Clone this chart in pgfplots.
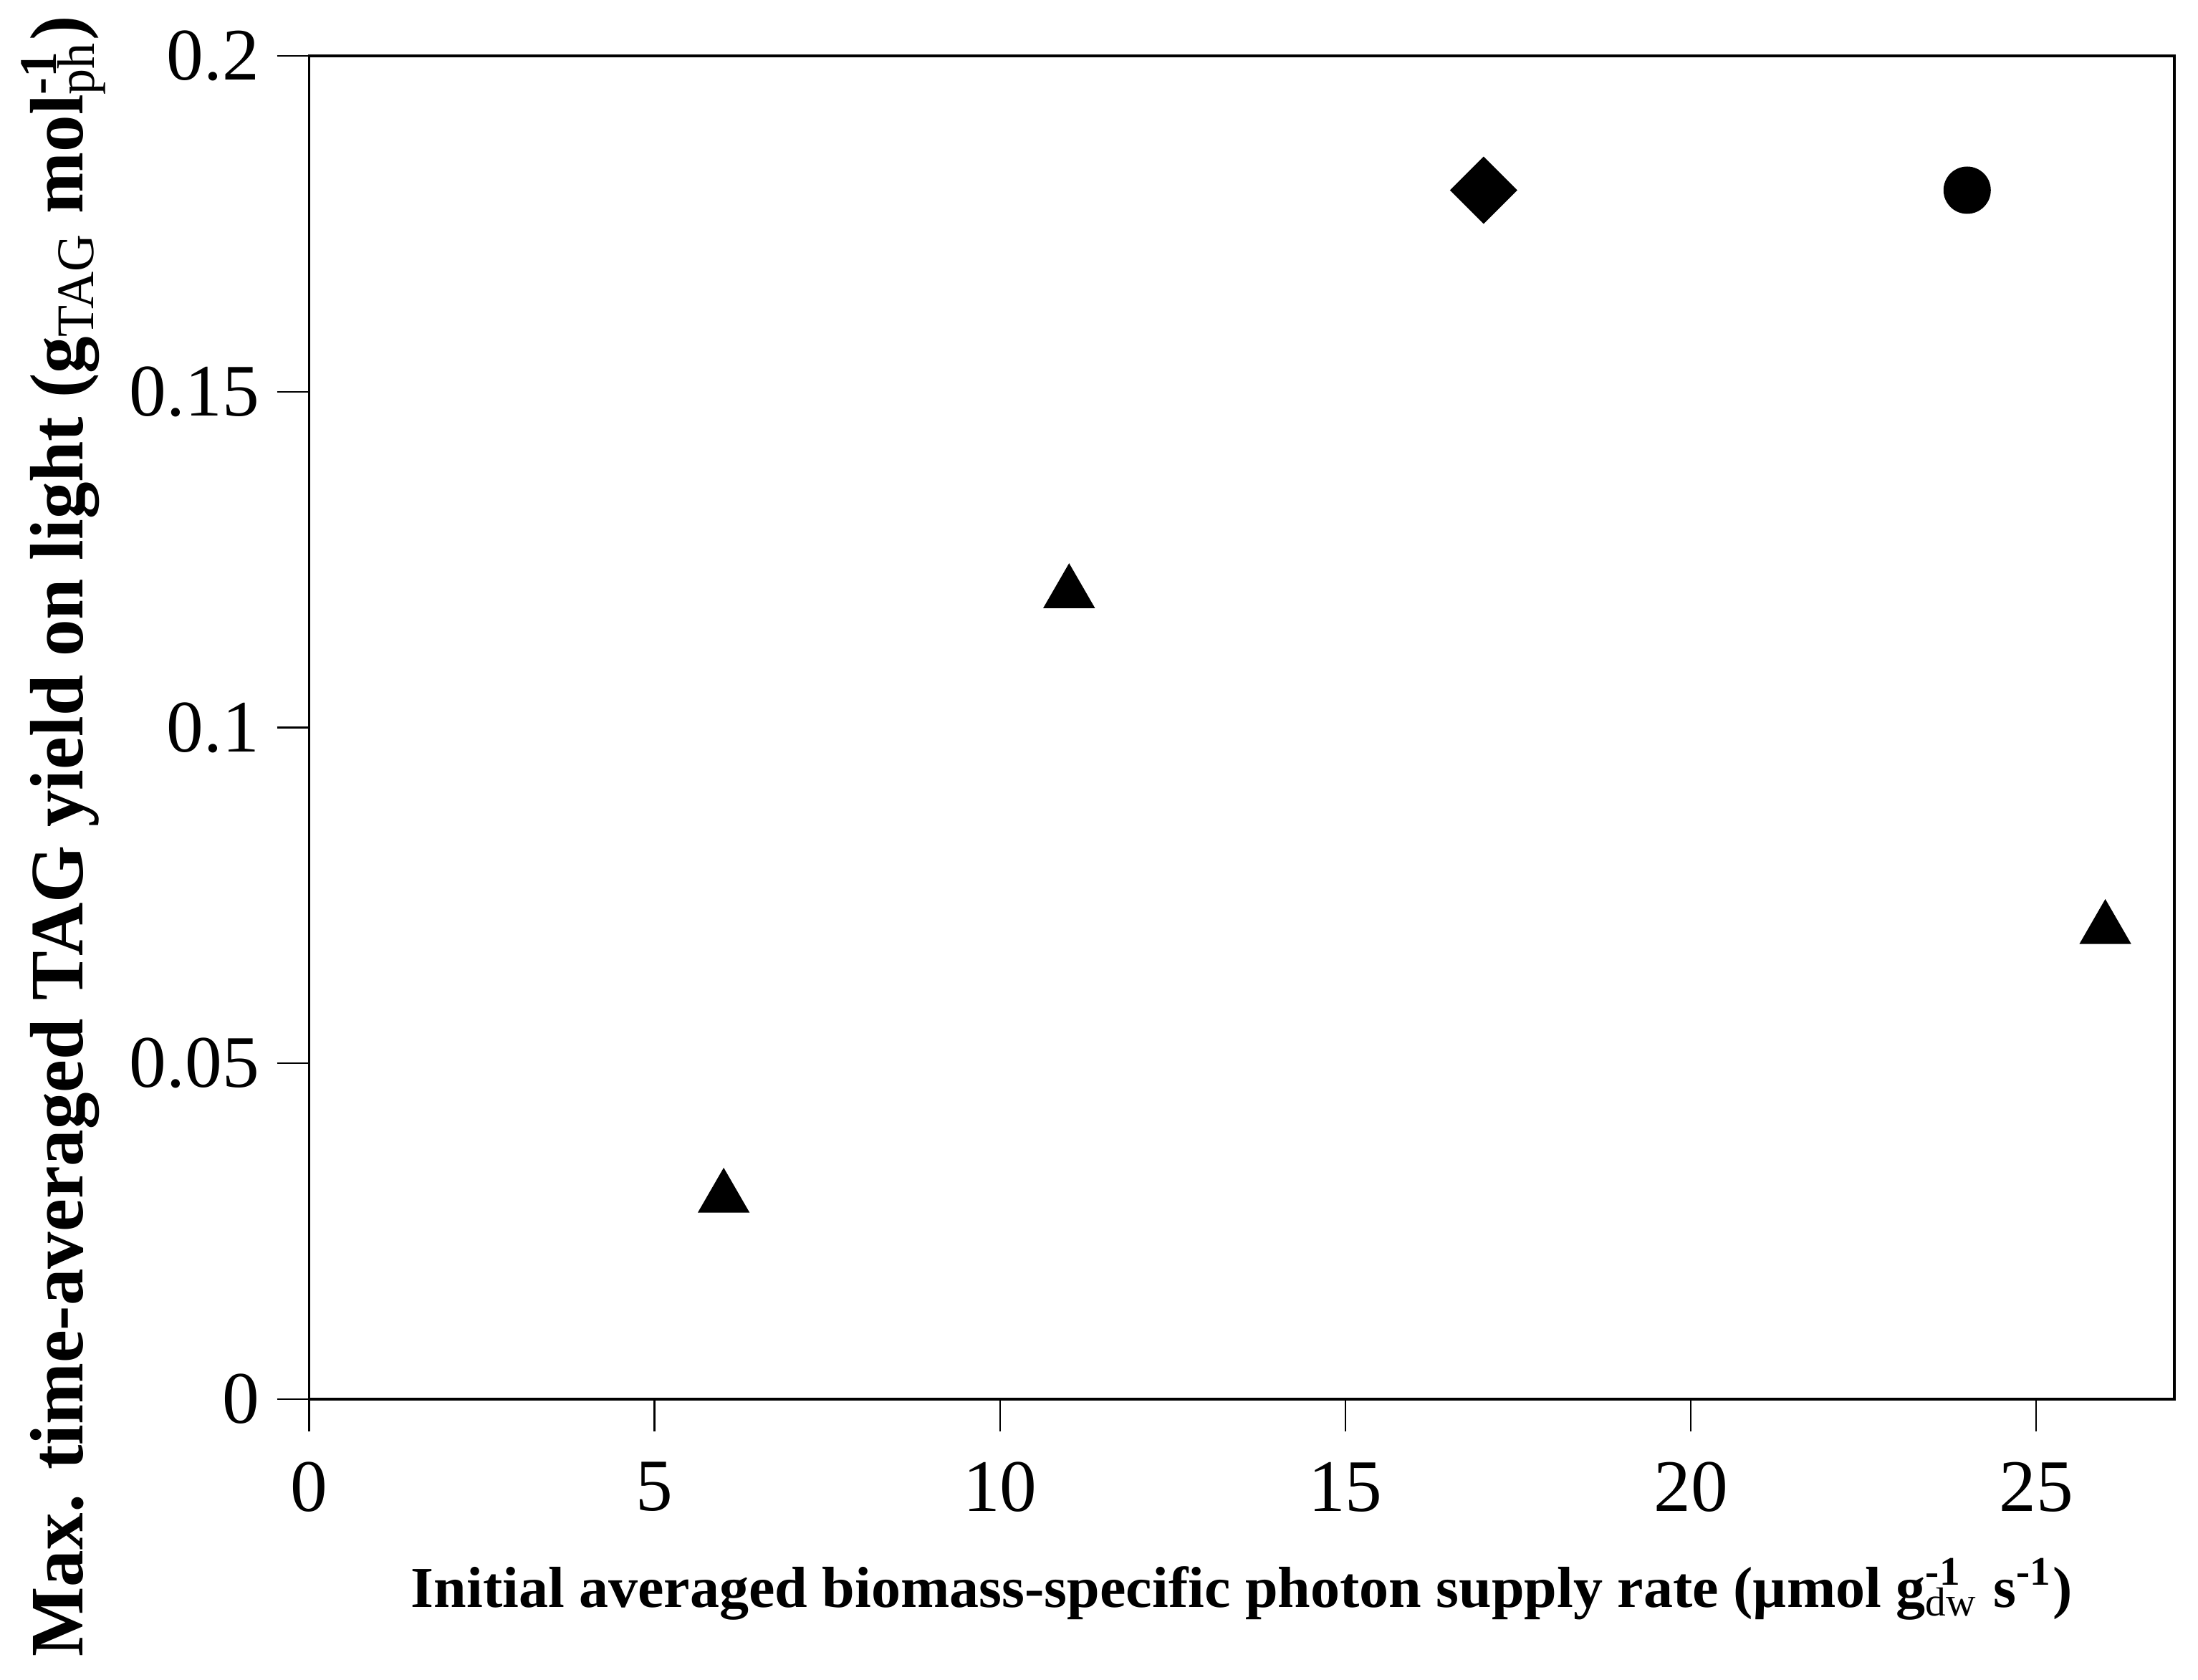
\documentclass[border=0pt]{standalone}
\usepackage{fontspec}
\setmainfont{Liberation Serif}
\usepackage{graphicx}
\usepackage{pgfplots}
\pgfplotsset{compat=1.18}
\newcommand\sbsp[2]{\makebox[0pt][l]{\textsuperscript{#2}}\textsubscript{\mdseries #1}}
\begin{document}
\begin{tikzpicture}
\begin{axis}[
  at={(0,0)}, anchor=south west,
  scale only axis, width=13.017cm, height=9.375cm,
  xmin=0, xmax=27, ymin=0, ymax=0.2,
  xtick={0,5,10,15,20,25}, xticklabels={0,5,10,15,20,25},
  ytick={0,0.05,0.1,0.15,0.2}, yticklabels={0,0.05,0.1,0.15,0.2},
  tick pos=left, tick align=outside,
  major tick length=0.225cm,
  every tick/.style={black, line width=0.35pt},
  axis line style={black, line width=0.45pt},
  /pgf/number format/assume math mode=true,
  tick label style={font=\fontsize{14.7}{17}\selectfont},
  xticklabel style={yshift=-0.09cm},
  xlabel={\resizebox{11.595cm}{\height}{Initial averaged biomass-specific photon supply rate (µmol g\sbsp{dw}{-1} s\textsuperscript{-1})}},
  xlabel style={font=\fontsize{11.5}{14}\selectfont\bfseries, at={(axis description cs:0.5,-0.1547)}, anchor=base},
  ylabel={\resizebox{11.45cm}{\height}{Max. time-averaged TAG yield on light (g\textsubscript{\mdseries TAG} mol\sbsp{ph}{-1})}},
  ylabel style={font=\fontsize{15}{18}\selectfont\bfseries, at={(axis description cs:-0.1216,0.419)}, anchor=base},
  clip=false,
]
\addplot[only marks, mark=triangle*, mark size=0.195cm, black] coordinates {(6,0.03) (11,0.12) (26,0.07)};
\addplot[only marks, mark=square*, mark size=0.159cm, mark options={rotate=45}, black] coordinates {(17,0.18)};
\addplot[only marks, mark=*, mark size=0.158cm, black] coordinates {(24,0.18)};
\end{axis}
\pgfresetboundingbox
\path[use as bounding box] (-2.158cm,-1.955cm) rectangle (13.182cm,9.765cm);
\end{tikzpicture}
\end{document}
